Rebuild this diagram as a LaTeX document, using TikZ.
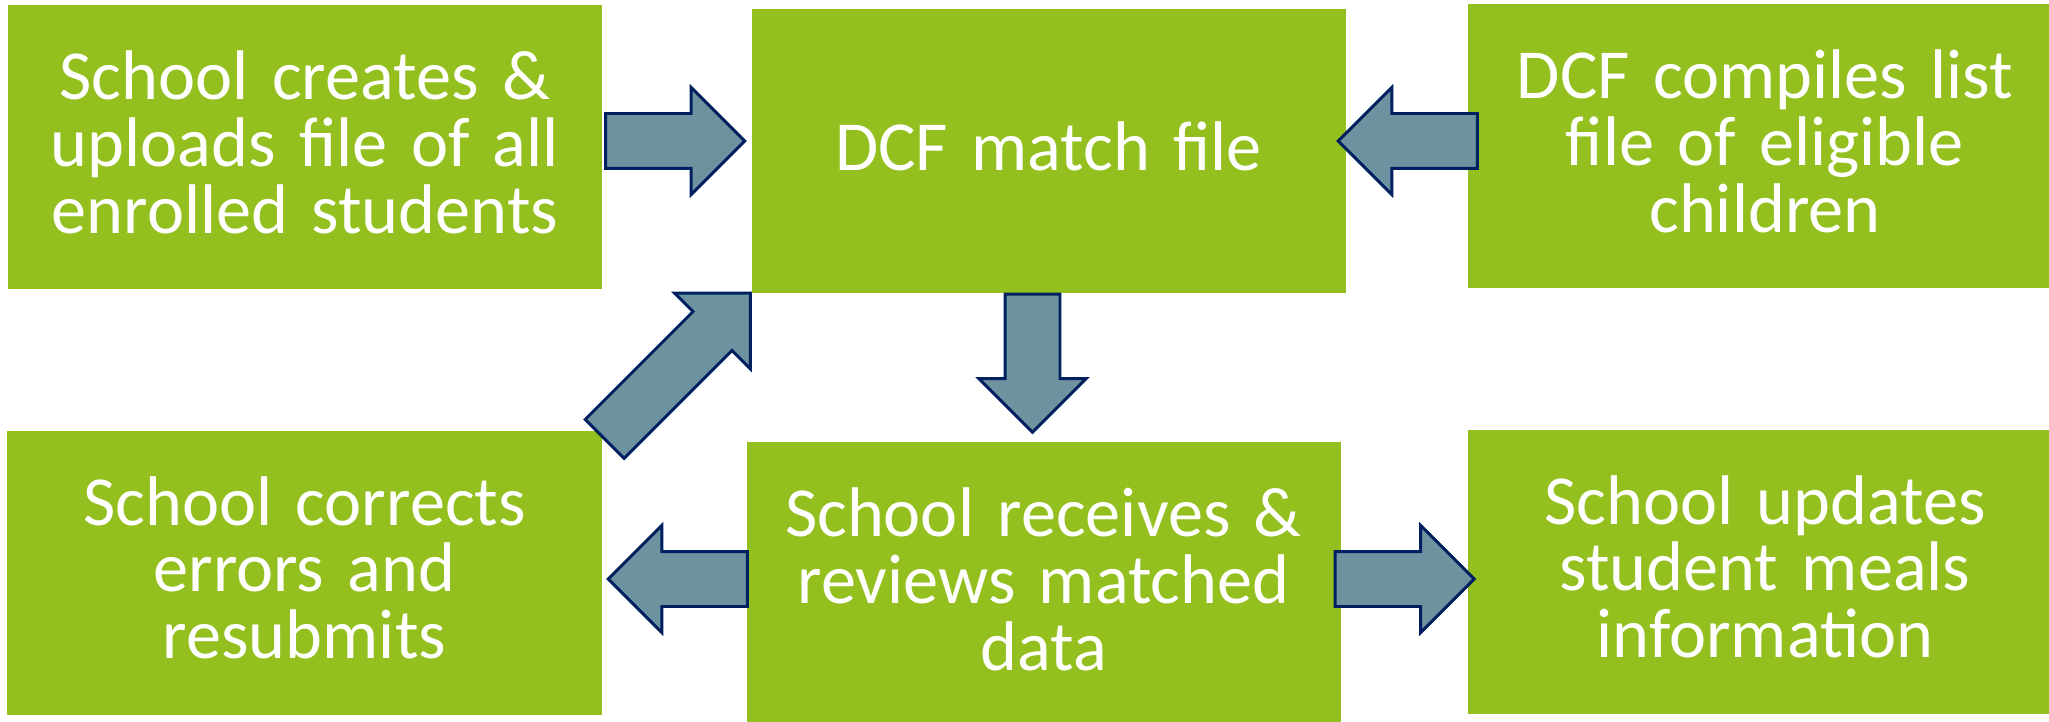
\documentclass[tikz,border=0pt]{standalone}
\usepackage{fontspec}
\setmainfont{Carlito}
\usetikzlibrary{shapes.arrows,calc}

\begin{document}
\begin{tikzpicture}[stepbox/.style={fill=leaf,text=white,minimum width=5.94cm,minimum height=2.84cm,
    text width=5.6cm,align=center,inner sep=0pt,font=\fontsize{20}{19}\selectfont},
  blockarrow/.style={single arrow,draw=navy,fill=slate,line width=0.85pt,inner xsep=0pt,inner ysep=0.26cm,
    minimum width=1.04cm,single arrow head extend=0.26cm,single arrow tip angle=90,minimum height=1.39cm,anchor=tip}]
\definecolor{leaf}{HTML}{93C01F}
\definecolor{slate}{HTML}{6F92A1}
\definecolor{navy}{HTML}{002060}
\useasboundingbox (0,0) rectangle (20.49,7.21);
  \foreach \nm/\pos/\txt in {b1/{3.05,5.74}/{School creates \&\\uploads file of all\\enrolled students},
    b2/{10.485,5.70}/{DCF match file},
    b3/{17.65,5.75}/{DCF compiles list\\file of eligible\\children},
    b4/{3.045,1.485}/{School corrects\\errors and\\resubmits},
    b5/{10.435,1.37}/{School receives \&\\reviews matched\\data},
    b6/{17.65,1.495}/{School updates\\student meals\\information}}
  {  \node [stepbox] (\nm) at (\pos) {\txt\rule[-0.1cm]{0pt}{0pt}};}
% arrows between the steps
\node [blockarrow] (a1) at ($(b2.west)+(-0.04,0.1)$) {};
\node [blockarrow,rotate=180] (a2) at ($(b2.east)+(-0.1,0.1)$) {};
\node [blockarrow,rotate=-90,minimum height=1.38cm] (a3) at ($(b5.north)+(-0.11,0.07)$) {};
\node [blockarrow,rotate=180] (a4) at ($(b4.east)+(0.04,-0.065)$) {};
\node [blockarrow] (a5) at ($(b6.west)+(0.09,-0.075)$) {};
\node [blockarrow,rotate=45,minimum height=2.06cm] (a6) at ($(b2.south west)+(0.01,0.02)$) {};
\end{tikzpicture}
\end{document}
